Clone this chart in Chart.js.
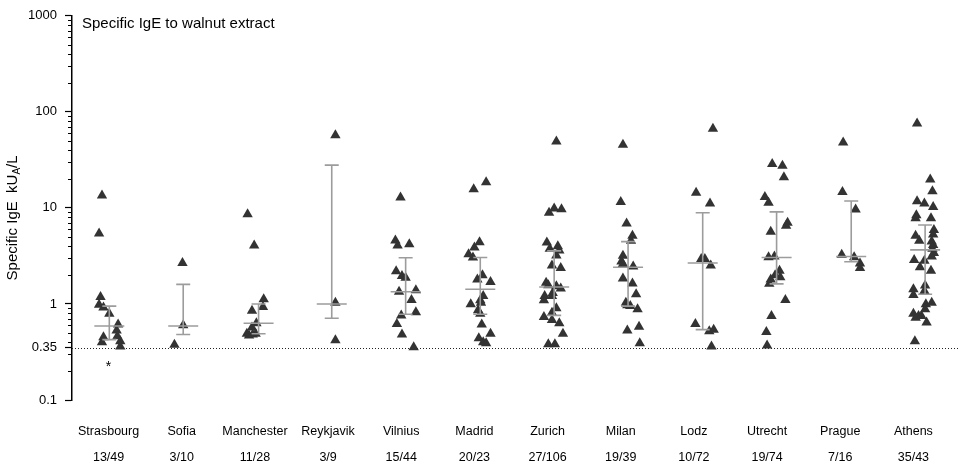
<!DOCTYPE html>
<html>
<head>
<meta charset="utf-8">
<script src="https://cdn.jsdelivr.net/npm/chart.js@4.4.0/dist/chart.umd.min.js"></script>
<style>
  html, body { margin: 0; padding: 0; background: #fff; }
  #wrap { width: 960px; height: 464px; }
</style>
</head>
<body>
<div id="wrap"><canvas id="c" width="960" height="464"></canvas></div>
<script>
// Centres and number of sensitised / tested subjects
const cities = ['Strasbourg', 'Sofia', 'Manchester', 'Reykjavik', 'Vilnius', 'Madrid',
                'Zurich', 'Milan', 'Lodz', 'Utrecht', 'Prague', 'Athens'];
const ratios = ['13/49', '3/10', '11/28', '3/9', '15/44', '20/23',
                '27/106', '19/39', '10/72', '19/74', '7/16', '35/43'];

// Specific IgE (kUA/L) of each positive subject, per centre
const strasbourgIgE = [13.5, 5.4, 1.18, 0.98, 0.92, 0.79, 0.61, 0.53, 0.46, 0.45, 0.40, 0.41, 0.36];
const sofiaIgE      = [2.67, 0.60, 0.375];
const manchesterIgE = [8.6, 4.06, 1.12, 0.93, 0.85, 0.63, 0.57, 0.49, 0.47, 0.48, 0.49];
const reykjavikIgE  = [57, 1.03, 0.42];
const vilniusIgE    = [12.8, 4.57, 4.06, 4.18, 2.19, 1.96, 1.87, 1.34, 1.39, 1.10, 0.82, 0.76, 0.62, 0.48, 0.355];
const madridIgE     = [18.5, 15.6, 4.38, 3.87, 3.30, 3.05, 1.99, 1.80, 1.69, 1.21, 1.09, 0.99, 1.03, 0.86, 0.79,
                       0.61, 0.49, 0.44, 0.40, 0.39];
const zurichIgE     = [49, 8.9, 9.85, 9.7, 4.36, 3.75, 3.99, 3.6, 3.2, 2.52, 2.37, 1.66, 1.57, 1.53, 1.45, 1.30,
                       1.21, 1.09, 1.21, 0.90, 0.81, 0.73, 0.68, 0.63, 0.49, 0.38, 0.38];
const milanIgE      = [45.4, 11.5, 6.9, 5.14, 4.54, 3.18, 2.77, 2.60, 2.45, 1.84, 1.63, 1.26, 1.03, 0.97, 0.95,
                       0.88, 0.58, 0.53, 0.39];
const lodzIgE       = [66.8, 14.4, 11.1, 2.93, 2.93, 2.52, 0.62, 0.52, 0.54, 0.36];
const utrechtIgE    = [28.6, 27.4, 20.9, 13.0, 11.3, 7.0, 6.5, 5.66, 3.07, 3.12, 2.22, 1.99, 1.90, 1.80, 1.62,
                       1.10, 0.75, 0.51, 0.37];
const pragueIgE     = [47.9, 14.6, 9.6, 3.25, 3.07, 2.63, 2.37];
const athensIgE     = [75.7, 19.7, 14.9, 11.7, 11.1, 10.2, 8.4, 7.8, 7.8, 5.9, 5.3, 5.14, 4.54, 4.46, 4.12, 3.75,
                       3.4, 3.12, 2.86, 2.82, 2.41, 2.22, 1.56, 1.42, 1.36, 1.24, 1.03, 0.99, 0.88, 0.79, 0.75,
                       0.75, 0.72, 0.64, 0.41];

// Horizontal spread of the dots around each centre (fraction of a category)
const strasbourgSpread = [-0.09, -0.13, -0.11, -0.13, -0.07, 0.01, 0.13, 0.11, 0.12, -0.07, -0.09, 0.16, 0.16];
const sofiaSpread      = [0.01, 0.02, -0.10];
const manchesterSpread = [-0.10, -0.01, 0.12, 0.11, -0.04, 0.02, -0.04, -0.11, -0.08, -0.03, 0.01];
const reykjavikSpread  = [0.10, 0.10, 0.10];
const vilniusSpread    = [-0.01, -0.08, -0.05, 0.11, -0.07, 0.01, 0.06, -0.03, 0.20, 0.14, 0.20, 0.00, -0.06, 0.01, 0.17];
const madridSpread     = [0.16, -0.01, 0.07, 0.00, -0.08, -0.02, 0.11, 0.04, 0.22, 0.12, 0.08, -0.05, 0.09, 0.05,
                          0.08, 0.10, 0.22, 0.06, 0.12, 0.16];
const zurichSpread     = [0.12, 0.02, 0.09, 0.19, -0.01, 0.03, 0.14, 0.16, 0.12, 0.06, 0.18, -0.02, 0.01, 0.12,
                          0.18, 0.07, -0.04, -0.05, 0.06, 0.12, 0.06, -0.05, 0.06, 0.16, 0.21, 0.01, 0.10];
const milanSpread      = [0.03, 0.00, 0.08, 0.16, 0.14, 0.03, 0.01, 0.03, 0.17, 0.03, 0.16, 0.21, 0.07, 0.09,
                          0.13, 0.23, 0.25, 0.09, 0.26];
const lodzSpread       = [0.26, 0.03, 0.22, 0.10, 0.15, 0.23, 0.02, 0.21, 0.27, 0.24];
const utrechtSpread    = [0.07, 0.21, 0.23, -0.03, 0.02, 0.28, 0.26, 0.05, 0.02, 0.10, 0.17, 0.11, 0.18, 0.05,
                          0.03, 0.25, 0.06, -0.01, 0.00];
const pragueSpread     = [0.04, 0.03, 0.21, 0.02, 0.19, 0.27, 0.27];
const athensSpread     = [0.05, 0.23, 0.26, 0.05, 0.15, 0.27, 0.04, 0.03, 0.24, 0.28, 0.27, 0.03, 0.08, 0.25,
                          0.27, 0.26, 0.28, 0.25, 0.01, 0.15, 0.09, 0.24, 0.16, 0.00, 0.15, 0.00, 0.25, 0.17,
                          0.16, 0.00, 0.07, 0.11, 0.03, 0.18, 0.02];

// Median and interquartile range per centre
const medians = [0.59, 0.59, 0.63, 1.0, 1.34, 1.42, 1.5, 2.41, 2.67, 3.05, 3.12, 3.66];
const lowerQ  = [0.425, 0.48, 0.49, 0.71, 0.78, 0.78, 0.76, 0.95, 0.54, 1.62, 2.75, 1.26];
const upperQ  = [0.95, 1.6, 1.0, 27.9, 3.03, 3.05, 3.57, 4.46, 8.9, 9.1, 11.8, 6.63];
const summaryShift = [0.01, 0.02, 0.05, 0.05, 0.06, 0.08, 0.09, 0.10, 0.12, 0.13, 0.15, 0.16];

// Axis ticks and the positivity cut-off
const yTickValues = [0.1, 0.35, 1, 10, 100, 1000];
const yTickLabels = ['0.1', '0.35', '1', '10', '100', '1000'];
const cutoff = 0.35;

const allIgE = [strasbourgIgE, sofiaIgE, manchesterIgE, reykjavikIgE, vilniusIgE, madridIgE,
                zurichIgE, milanIgE, lodzIgE, utrechtIgE, pragueIgE, athensIgE];
const allSpread = [strasbourgSpread, sofiaSpread, manchesterSpread, reykjavikSpread, vilniusSpread, madridSpread,
                   zurichSpread, milanSpread, lodzSpread, utrechtSpread, pragueSpread, athensSpread];

const FONT = "'Liberation Sans', Arial, Helvetica, sans-serif";

const points = allIgE.flatMap((vals, i) => vals.map((v, k) => ({ x: i + allSpread[i][k], y: v })));

const decor = {
  id: 'decor',
  beforeDatasetsDraw(chart) {
    const { ctx, chartArea, scales: { y } } = chart;
    ctx.save();
    // dotted cut-off line
    const yc = Math.round(y.getPixelForValue(cutoff)) + 0.5;
    ctx.strokeStyle = '#222';
    ctx.lineWidth = 1;
    ctx.setLineDash([1, 2]);
    ctx.beginPath();
    ctx.moveTo(chartArea.left, yc);
    ctx.lineTo(chart.width, yc);
    ctx.stroke();
    ctx.setLineDash([]);
    // minor log ticks
    ctx.strokeStyle = '#000';
    ctx.lineWidth = 1;
    [0.1, 1, 10, 100].forEach(d => {
      for (let k = 2; k <= 9; k++) {
        const py = Math.round(y.getPixelForValue(d * k)) + 0.5;
        ctx.beginPath();
        ctx.moveTo(chartArea.left - 4, py);
        ctx.lineTo(chartArea.left, py);
        ctx.stroke();
      }
    });
    ctx.restore();
  },
  afterDatasetsDraw(chart) {
    const { ctx, chartArea, scales: { x, y } } = chart;
    ctx.save();
    // median and interquartile range
    ctx.strokeStyle = '#9c9c9c';
    ctx.lineWidth = 1.6;
    cities.forEach((c, i) => {
      const px = x.getPixelForValue(i + summaryShift[i]);
      const yl = y.getPixelForValue(lowerQ[i]);
      const yu = y.getPixelForValue(upperQ[i]);
      const ym = y.getPixelForValue(medians[i]);
      ctx.beginPath();
      ctx.moveTo(px, yl); ctx.lineTo(px, yu);
      ctx.moveTo(px - 7, yl); ctx.lineTo(px + 7, yl);
      ctx.moveTo(px - 7, yu); ctx.lineTo(px + 7, yu);
      ctx.moveTo(px - 15, ym); ctx.lineTo(px + 15, ym);
      ctx.stroke();
    });

    // asterisk under the first centre
    ctx.fillStyle = '#000';
    ctx.font = '14px ' + FONT;
    ctx.textAlign = 'center';
    ctx.textBaseline = 'middle';
    ctx.fillText('*', x.getPixelForValue(0), y.getPixelForValue(0.235) + 3);

    // chart title
    ctx.textAlign = 'left';
    ctx.font = '15px ' + FONT;
    ctx.fillText('Specific IgE to walnut extract', chartArea.left + 10, chartArea.top + 8);

    // y axis title with subscript
    const cy = (chartArea.top + chartArea.bottom) / 2 + 10;
    ctx.translate(13, cy);
    ctx.rotate(-Math.PI / 2);
    const mainFont = '15px ' + FONT;
    const subFont = '10px ' + FONT;
    const p1 = 'Specific IgE  kU', p2 = 'A', p3 = '/L';
    ctx.font = mainFont; const w1 = ctx.measureText(p1).width; const w3 = ctx.measureText(p3).width;
    ctx.font = subFont; const w2 = ctx.measureText(p2).width;
    let sx = -(w1 + w2 + w3) / 2;
    ctx.textAlign = 'left';
    ctx.font = mainFont; ctx.fillText(p1, sx, 0); sx += w1;
    ctx.font = subFont; ctx.fillText(p2, sx, 4); sx += w2;
    ctx.font = mainFont; ctx.fillText(p3, sx, 0);
    ctx.restore();
  }
};

new Chart(document.getElementById('c'), {
  type: 'scatter',
  data: {
    datasets: [{
      data: points,
      pointStyle: 'triangle',
      pointRadius: 6,
      pointBackgroundColor: '#333333',
      pointBorderColor: '#333333',
      pointBorderWidth: 0
    }]
  },
  options: {
    responsive: false,
    devicePixelRatio: 1,
    animation: false,
    events: [],
    layout: { padding: { top: 12, right: 10, bottom: 0, left: 0 } },
    plugins: { legend: { display: false }, tooltip: { enabled: false }, title: { display: false } },
    scales: {
      x: {
        type: 'linear',
        min: -0.5,
        max: 11.5,
        afterBuildTicks: s => { s.ticks = cities.map((c, i) => ({ value: i })); },
        afterFit: s => { s.height = 64; },
        ticks: {
          autoSkip: false,
          maxRotation: 0,
          minRotation: 0,
          padding: 11,
          color: '#000',
          font: { family: FONT, size: 12.5, lineHeight: '26px' },
          callback: (v) => [cities[Math.round(v)], ratios[Math.round(v)]]
        },
        grid: { display: false },
        border: { display: false }
      },
      y: {
        type: 'logarithmic',
        min: 0.1,
        max: 1000,
        afterBuildTicks: s => { s.ticks = yTickValues.map(v => ({ value: v })); },
        afterFit: s => { s.width = 72; },
        ticks: {
          autoSkip: false,
          padding: 8,
          color: '#000',
          font: { family: FONT, size: 13 },
          callback: (v, i) => yTickLabels[i]
        },
        grid: { display: true, drawOnChartArea: false, drawTicks: true, tickLength: 7, tickColor: '#000', tickWidth: 1.2 },
        border: { display: true, color: '#000', width: 1.5 }
      }
    }
  },
  plugins: [decor]
});
</script>
</body>
</html>
